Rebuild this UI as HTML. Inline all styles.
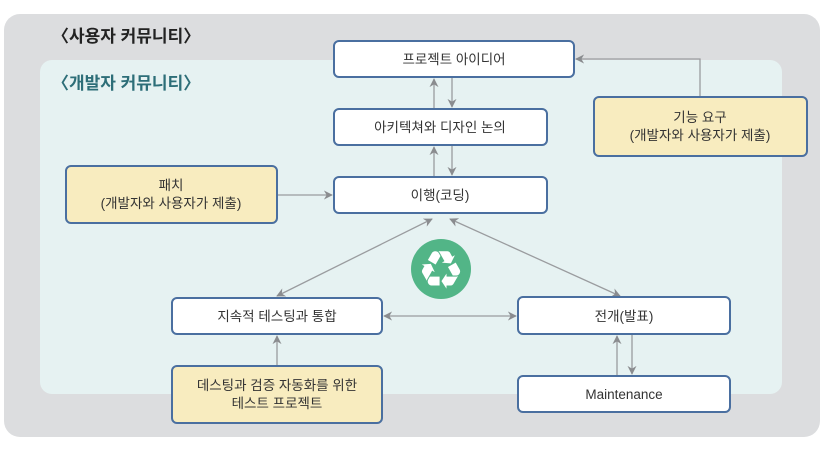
<!DOCTYPE html>
<html><head><meta charset="utf-8"><style>
html,body{margin:0;padding:0;background:#fff;}
svg text{font-family:"Liberation Sans","Noto Sans CJK KR",sans-serif;}
</style></head><body>
<svg width="833" height="451" viewBox="0 0 833 451" xmlns="http://www.w3.org/2000/svg">
<defs>
<marker id="a" viewBox="0 0 10 10" refX="9" refY="5" markerWidth="9" markerHeight="9" orient="auto-start-reverse" markerUnits="userSpaceOnUse">
<path d="M0,0 L10,5 L0,10 L3,5 z" fill="#8a8c8f"/></marker>
</defs>
<rect x="4" y="14" width="816" height="423" rx="16" fill="#dcdddf"/>
<rect x="40" y="60" width="742" height="334" rx="12" fill="#e6f2f2"/>
<text x="52" y="42" font-size="17" font-weight="bold" fill="#222">〈사용자 커뮤니티〉</text>
<text x="52" y="89" font-size="17" font-weight="bold" fill="#2d6e78">〈개발자 커뮤니티〉</text>

<g stroke="#9a9c9f" stroke-width="1.3" fill="none">
<line x1="434" y1="109" x2="434" y2="79" marker-end="url(#a)"/>
<line x1="452" y1="77" x2="452" y2="107" marker-end="url(#a)"/>
<line x1="434" y1="177" x2="434" y2="147" marker-end="url(#a)"/>
<line x1="452" y1="145" x2="452" y2="175" marker-end="url(#a)"/>
<line x1="277" y1="195" x2="332" y2="195" marker-end="url(#a)"/>
<polyline points="700,97 700,59 576,59" marker-end="url(#a)"/>
<line x1="277" y1="296" x2="432" y2="219" marker-start="url(#a)" marker-end="url(#a)"/>
<line x1="450" y1="219" x2="620" y2="296" marker-start="url(#a)" marker-end="url(#a)"/>
<line x1="384" y1="316" x2="516" y2="316" marker-start="url(#a)" marker-end="url(#a)"/>
<line x1="277" y1="366" x2="277" y2="336" marker-end="url(#a)"/>
<line x1="617" y1="376" x2="617" y2="336" marker-end="url(#a)"/>
<line x1="632" y1="334" x2="632" y2="374" marker-end="url(#a)"/>
</g>

<g stroke="#4a6fa0" stroke-width="2">
<rect x="334" y="41" width="240" height="36" rx="5" fill="#fff"/>
<rect x="334" y="109" width="213" height="36" rx="5" fill="#fff"/>
<rect x="334" y="177" width="213" height="36" rx="5" fill="#fff"/>
<rect x="66" y="166" width="211" height="57" rx="5" fill="#f8ecbf"/>
<rect x="594" y="97" width="213" height="59" rx="5" fill="#f8ecbf"/>
<rect x="172" y="298" width="210" height="36" rx="5" fill="#fff"/>
<rect x="518" y="297" width="212" height="37" rx="5" fill="#fff"/>
<rect x="518" y="376" width="212" height="36" rx="5" fill="#fff"/>
<rect x="172" y="366" width="210" height="57" rx="5" fill="#f8ecbf"/>
</g>

<g font-size="13.5" fill="#333" text-anchor="middle">
<text x="454" y="64">프로젝트 아이디어</text>
<text x="440" y="132">아키텍쳐와 디자인 논의</text>
<text x="440" y="200">이행(코딩)</text>
<text x="171" y="190">패치</text>
<text x="171" y="208">(개발자와 사용자가 제출)</text>
<text x="700" y="122">기능 요구</text>
<text x="700" y="140">(개발자와 사용자가 제출)</text>
<text x="277" y="321">지속적 테스팅과 통합</text>
<text x="624" y="321">전개(발표)</text>
<text x="624" y="399">Maintenance</text>
<text x="277" y="390">데스팅과 검증 자동화를 위한</text>
<text x="277" y="408">테스트 프로젝트</text>
</g>

<circle cx="441" cy="269" r="30" fill="#52b587"/>
<text x="441" y="284" font-size="40" fill="#fff" text-anchor="middle" font-family="DejaVu Sans,sans-serif">♻</text>
</svg>
</body></html>
